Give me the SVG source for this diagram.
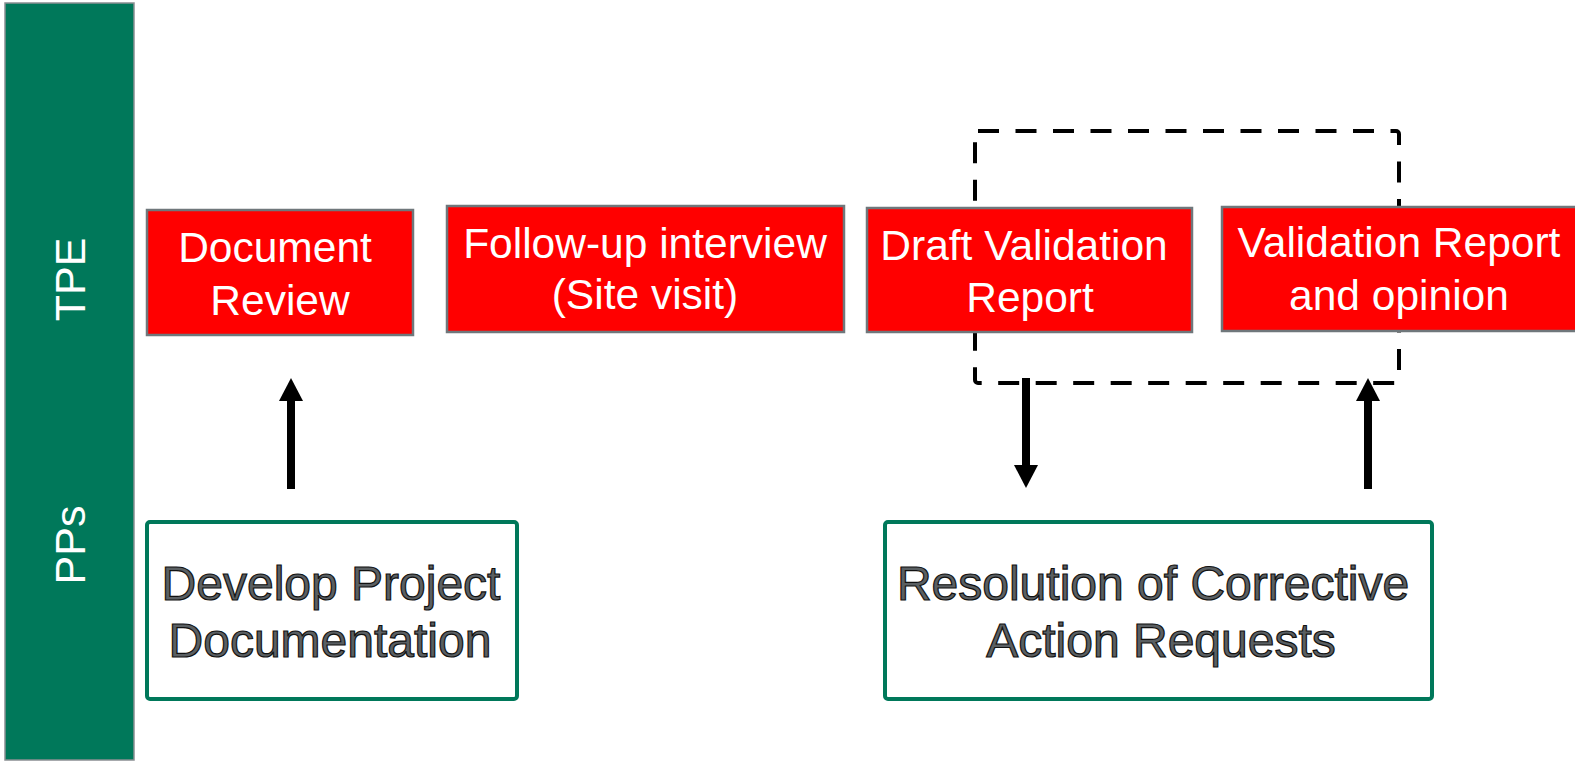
<svg xmlns="http://www.w3.org/2000/svg" width="1575" height="763" viewBox="0 0 1575 763">
  <style>
    .lane { fill: #00785A; stroke: #8a8f92; stroke-width: 1.5; }
    .lanetxt { font-family: "Liberation Sans", Arial, sans-serif; font-size: 43px; fill: #ffffff; text-anchor: middle; }
    .red { fill: #FF0000; stroke: #6f777b; stroke-width: 2.5; }
    .redtxt { font-family: "Liberation Sans", Arial, sans-serif; font-size: 42.5px; fill: #ffffff; text-anchor: middle; }
    .pp { fill: #ffffff; stroke: #00785A; stroke-width: 4; }
    .pptxt { font-family: "Liberation Sans", Arial, sans-serif; font-size: 48px; fill: #5a5f62; stroke: #111111; stroke-width: 1.2; text-anchor: middle; }
    .arrow { stroke: #000000; stroke-width: 8; fill: none; marker-end: url(#head); }
    .dash { fill: none; stroke: #000000; stroke-width: 4; stroke-dasharray: 21 16.5; }
  </style>
  <defs>
    <marker id="head" markerUnits="userSpaceOnUse" markerWidth="24" markerHeight="24" viewBox="0 0 24 24" refX="3" refY="12" orient="auto">
      <path d="M0,0 L23,12 L0,24 z" fill="#000000"/>
    </marker>
  </defs>

  <g id="lanes">
    <rect class="lane" x="5" y="3" width="129" height="757"/>
    <text class="lanetxt" transform="translate(85,279.5) rotate(-90)">TPE</text>
    <text class="lanetxt" transform="translate(85,545) rotate(-90)">PPs</text>
  </g>

  <g id="connectors">
    <rect class="dash" x="975" y="131" width="424" height="252" rx="3"/>
    <line class="arrow" x1="291" y1="489" x2="291" y2="398"/>
    <line class="arrow" x1="1026" y1="378" x2="1026" y2="468"/>
    <line class="arrow" x1="1368" y1="489" x2="1368" y2="398"/>
  </g>

  <g id="document-review">
    <rect class="red" x="147" y="210" width="266" height="125"/>
    <text class="redtxt" x="275" y="262">Document</text>
    <text class="redtxt" x="280" y="315">Review</text>
  </g>

  <g id="follow-up-interview">
    <rect class="red" x="447" y="206" width="397" height="126"/>
    <text class="redtxt" x="645" y="258">Follow-up interview</text>
    <text class="redtxt" x="645" y="309">(Site visit)</text>
  </g>

  <g id="draft-validation-report">
    <rect class="red" x="867" y="208" width="325" height="124"/>
    <text class="redtxt" x="1024" y="260">Draft Validation</text>
    <text class="redtxt" x="1030" y="311.5">Report</text>
  </g>

  <g id="validation-report">
    <rect class="red" x="1222" y="207" width="360" height="124"/>
    <text class="redtxt" x="1399" y="257">Validation Report</text>
    <text class="redtxt" x="1399" y="310">and opinion</text>
  </g>

  <g id="develop-project-documentation">
    <rect class="pp" x="147" y="522" width="370" height="177" rx="3"/>
    <text class="pptxt" x="331" y="600">Develop Project</text>
    <text class="pptxt" x="330" y="657">Documentation</text>
  </g>

  <g id="resolution-of-cars">
    <rect class="pp" x="885" y="522" width="547" height="177" rx="3"/>
    <text class="pptxt" x="1153" y="600">Resolution of Corrective</text>
    <text class="pptxt" x="1161" y="657">Action Requests</text>
  </g>
</svg>
